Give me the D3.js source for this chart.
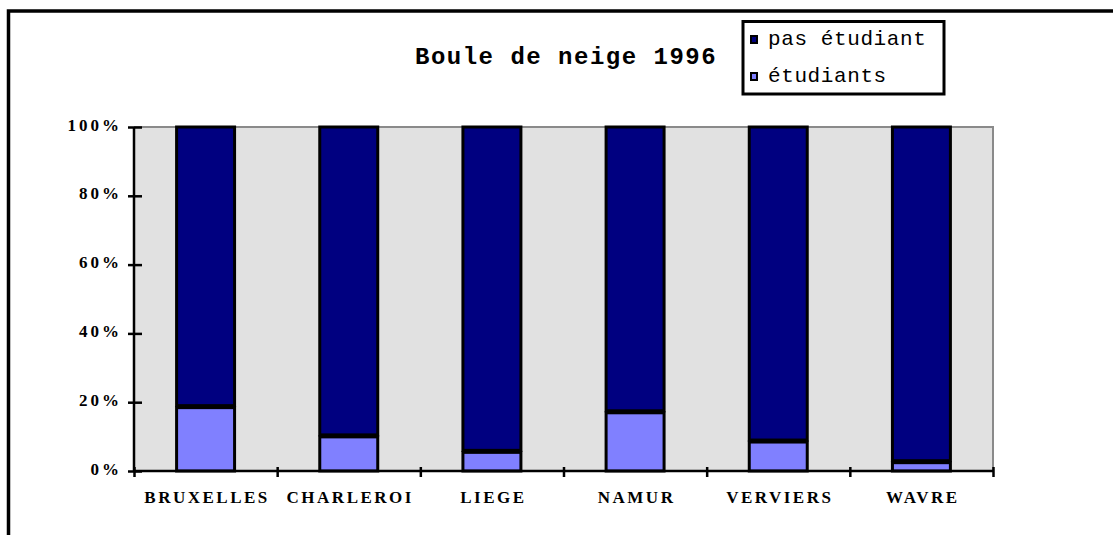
<!DOCTYPE html>
<html>
<head>
<meta charset="utf-8">
<script src="https://cdn.jsdelivr.net/npm/d3@7"></script>
<style>
  html, body { margin: 0; padding: 0; background: #fff; }
  svg { display: block; }
</style>
</head>
<body>
<svg id="graph"></svg>
<script>
// chart data
var cities = ["BRUXELLES", "CHARLEROI", "LIEGE", "NAMUR", "VERVIERS", "WAVRE"];
var etudiants = [19, 10.5, 6, 17.5, 9, 3];
var pasEtudiant = [81, 89.5, 94, 82.5, 91, 97];
var seriesNames = ["étudiants", "pas étudiant"];
var seriesColors = ["#8080ff", "#000080"];
var yTicks = [0, 20, 40, 60, 80, 100];
var title = "Boule de neige 1996";

var outerWidth = 1113, outerHeight = 535;
var plot = { left: 134, right: 993, top: 127, bottom: 471 };

var serif = "'Liberation Serif', 'Times New Roman', serif";
var mono = "'Liberation Mono', 'Courier New', monospace";

var rows = cities.map(function (c, i) {
  return { city: c, "étudiants": etudiants[i], "pas étudiant": pasEtudiant[i] };
});

var stacked = d3.stack().keys(seriesNames)(rows);

var svg = d3.select("svg#graph")
  .attr("width", outerWidth)
  .attr("height", outerHeight);

// outer frame (left + top only visible)
svg.append("path")
  .attr("d", "M8.5," + outerHeight + "V11H" + outerWidth)
  .attr("fill", "none")
  .attr("stroke", "#000")
  .attr("stroke-width", 3.5);

var x = d3.scaleBand()
  .domain(cities)
  .range([plot.left, plot.right])
  .paddingInner(0.595)
  .paddingOuter(0.595 / 2);

var xEdges = d3.scaleLinear()
  .domain([0, cities.length])
  .range([plot.left, plot.right]);

var y = d3.scaleLinear()
  .domain([0, 100])
  .range([plot.bottom, plot.top]);

// plot background
svg.append("rect")
  .attr("x", plot.left)
  .attr("y", plot.top)
  .attr("width", plot.right - plot.left)
  .attr("height", plot.bottom - plot.top)
  .attr("fill", "#e1e1e1");

svg.append("path")
  .attr("d", "M" + plot.left + "," + plot.top + "H" + plot.right + "V" + plot.bottom)
  .attr("fill", "none")
  .attr("stroke", "#8a8a8a")
  .attr("stroke-width", 2);

// bars
var layers = svg.append("g").selectAll("g")
  .data(stacked)
  .join("g")
  .attr("fill", function (d, i) { return seriesColors[i]; });

layers.selectAll("rect")
  .data(function (d) { return d.map(function (v) { return { v: v, key: d.key }; }); })
  .join("rect")
  .attr("x", function (d) { return x(d.v.data.city); })
  .attr("width", x.bandwidth())
  .attr("y", function (d) { return y(d.v[1]) + (d.key === "étudiants" ? 2 : 0); })
  .attr("height", function (d) {
    return y(d.v[0]) - y(d.v[1]) - (d.key === "étudiants" ? 2 : 0);
  })
  .attr("stroke", "#000")
  .attr("stroke-width", 3);

// y axis
var yAxis = d3.axisLeft(y)
  .tickValues(yTicks)
  .tickSize(6)
  .tickFormat(function (d) { return d + "%"; });

var gY = svg.append("g")
  .attr("transform", "translate(" + plot.left + ",0)")
  .call(yAxis)
  .attr("font-size", null)
  .attr("font-family", null);

gY.select(".domain").attr("stroke", "#000").attr("stroke-width", 2.5)
  .attr("d", "M0," + plot.bottom + "V" + plot.top);
gY.selectAll(".tick line")
  .attr("x1", 8).attr("x2", -6)
  .attr("stroke", "#000").attr("stroke-width", 2.5);
gY.selectAll(".tick text")
  .attr("x", -15 + 3)
  .attr("dy", 3)
  .attr("fill", "#000")
  .style("font-family", serif)
  .style("font-size", "17px")
  .style("font-weight", "bold")
  .style("letter-spacing", "3px");

// x axis: ticks at category edges
var xAxis = d3.axisBottom(xEdges)
  .tickValues(d3.range(cities.length + 1))
  .tickSize(6)
  .tickFormat("");

var gX = svg.append("g")
  .attr("transform", "translate(0," + plot.bottom + ")")
  .call(xAxis);

gX.select(".domain").attr("stroke", "#000").attr("stroke-width", 2.5)
  .attr("d", "M" + plot.left + ",0H" + plot.right);
gX.selectAll(".tick line")
  .attr("y1", -4).attr("y2", 6)
  .attr("stroke", "#000").attr("stroke-width", 2.5);

// x labels
var gL = svg.append("g")
  .attr("transform", "translate(0," + plot.bottom + ")")
  .call(d3.axisBottom(x).tickSize(0))
  .attr("font-size", null)
  .attr("font-family", null);
gL.select(".domain").remove();
gL.selectAll(".tick text")
  .attr("y", 32)
  .attr("dy", 0)
  .attr("dx", 1.5)
  .attr("fill", "#000")
  .style("font-family", serif)
  .style("font-size", "17px")
  .style("font-weight", "bold")
  .style("letter-spacing", "2.5px");

// title
svg.append("text")
  .attr("x", 415)
  .attr("y", 64)
  .attr("fill", "#000")
  .style("font-family", mono)
  .style("font-size", "24px")
  .style("font-weight", "bold")
  .style("letter-spacing", "1.5px")
  .text(title);

// legend
var legend = svg.append("g");
legend.append("rect")
  .attr("x", 743)
  .attr("y", 21.5)
  .attr("width", 201)
  .attr("height", 72.5)
  .attr("fill", "#fff")
  .attr("stroke", "#000")
  .attr("stroke-width", 3);

var legendItems = [
  { name: seriesNames[1], color: seriesColors[1], y: 45 },
  { name: seriesNames[0], color: seriesColors[0], y: 82 }
];

var li = legend.selectAll("g.item")
  .data(legendItems)
  .join("g")
  .attr("class", "item");

li.append("rect")
  .attr("x", 751)
  .attr("y", function (d) { return d.y - 9; })
  .attr("width", 6)
  .attr("height", 7)
  .attr("fill", function (d) { return d.color; })
  .attr("stroke", "#000")
  .attr("stroke-width", 2);

li.append("text")
  .attr("x", 768)
  .attr("y", function (d) { return d.y; })
  .attr("fill", "#000")
  .style("font-family", mono)
  .style("font-size", "21px")
  .style("letter-spacing", "0.6px")
  .text(function (d) { return d.name; });
</script>
</body>
</html>
